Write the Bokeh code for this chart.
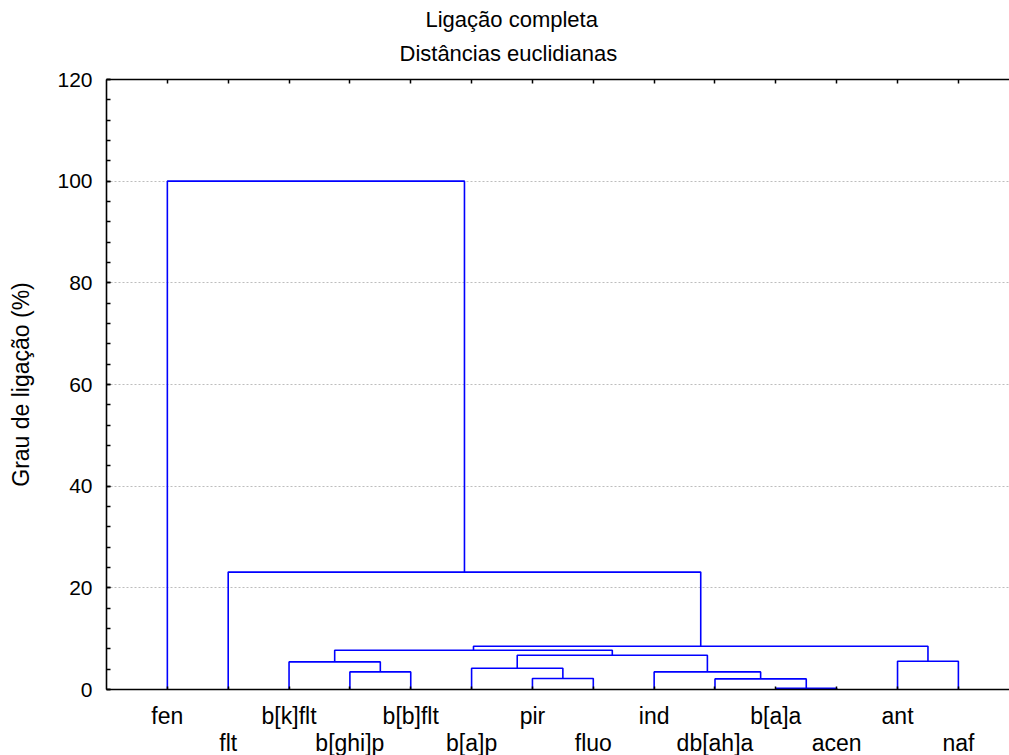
from bokeh.plotting import figure
from bokeh.models import LinearAxis, FixedTicker, SingleIntervalTicker, Title, Range1d
from bokeh.embed import file_html
from bokeh.resources import INLINE

# Leaves in dendrogram order
leaf_labels = ["fen", "flt", "b[k]flt", "b[ghi]p", "b[b]flt", "b[a]p", "pir",
               "fluo", "ind", "db[ah]a", "b[a]a", "acen", "ant", "naf"]

# Agglomeration steps: leaves are 0..13, each merge creates cluster 14, 15, ...
merge_left = [10, 6, 9, 3, 8, 5, 2, 12, 19, 20, 23, 1, 0]
merge_right = [11, 7, 14, 4, 16, 15, 17, 13, 18, 22, 21, 24, 25]
merge_height = [0.25, 2.16, 2.09, 3.46, 3.46, 4.19, 5.43, 5.56, 6.74, 7.73, 8.51, 23.1, 100.0]

y_ticks = [0, 20, 40, 60, 80, 100, 120]

FONT = "Liberation Sans"
BLUE = "#0000ff"

# node coordinates: leaves sit at x = 1..n, height 0
node_x = [i + 1 for i in range(len(leaf_labels))]
node_y = [0.0] * len(leaf_labels)
xs, ys = [], []
for a, b, h in zip(merge_left, merge_right, merge_height):
    xa, ya, xb, yb = node_x[a], node_y[a], node_x[b], node_y[b]
    xs.append([xa, xa, xb, xb])
    ys.append([ya, h, h, yb])
    node_x.append((xa + xb) / 2)
    node_y.append(h)

leaf_pos = list(range(1, len(leaf_labels) + 1))

p = figure(frame_width=903, frame_height=610, output_backend="svg", toolbar_location=None,
           x_range=Range1d(0, 14.84), y_range=Range1d(0, 120),
           min_border_left=106, min_border_right=0, min_border_top=79,
           min_border_bottom=0, outline_line_color=None)
p.background_fill_color = "white"
p.border_fill_color = "white"

# grid
p.xgrid.visible = False
p.ygrid.ticker = FixedTicker(ticks=y_ticks[1:-1])
p.ygrid.grid_line_color = "#bdbdbd"
p.ygrid.grid_line_dash = "2 2"
p.ygrid.grid_line_width = 1

# dendrogram links
p.multi_line(xs, ys, line_color=BLUE, line_width=1.6)

# y axis
ya = p.yaxis[0]
ya.ticker = SingleIntervalTicker(interval=20, num_minor_ticks=5)
ya.axis_label = "Grau de ligação (%)"
ya.axis_label_text_font = FONT
ya.axis_label_text_font_style = "normal"
ya.axis_label_text_font_size = "23px"
ya.axis_label_text_color = "black"
ya.axis_label_standoff = 20
ya.major_label_text_font = FONT
ya.major_label_text_font_size = "21px"
ya.major_label_text_color = "black"
ya.major_label_standoff = 14
ya.major_tick_in = 4
ya.major_tick_out = 0
ya.minor_tick_in = 4
ya.minor_tick_out = 0
ya.axis_line_width = 1.6
ya.major_tick_line_width = 1.5
ya.minor_tick_line_width = 1.5
ya.axis_line_color = "black"
ya.major_tick_line_color = "black"
ya.minor_tick_line_color = "black"

# bottom axis, first row of leaf names
xa = p.xaxis[0]
xa.ticker = FixedTicker(ticks=leaf_pos)
xa.major_label_overrides = {pos: (lab if i % 2 == 0 else "")
                            for i, (pos, lab) in enumerate(zip(leaf_pos, leaf_labels))}
xa.major_label_text_font = FONT
xa.major_label_text_font_size = "23px"
xa.major_label_text_color = "black"
xa.major_label_standoff = 13
xa.major_tick_in = 3
xa.major_tick_out = 0
xa.minor_tick_line_color = None
xa.axis_line_width = 1.6
xa.major_tick_line_width = 1.5
xa.axis_line_color = "black"
xa.major_tick_line_color = "black"

# bottom axis, second row of leaf names
even_pos = leaf_pos[1::2]
xa2 = LinearAxis(ticker=FixedTicker(ticks=even_pos),
                 major_label_overrides={pos: leaf_labels[pos - 1] for pos in even_pos},
                 major_label_text_font=FONT, major_label_text_font_size="23px",
                 major_label_text_color="black", major_label_standoff=-8,
                 axis_line_color=None, major_tick_line_color=None,
                 minor_tick_line_color=None)
p.add_layout(xa2, "below")

# top frame edge with inward ticks at each leaf
xt = LinearAxis(ticker=FixedTicker(ticks=leaf_pos),
                major_label_overrides={pos: "" for pos in leaf_pos},
                major_tick_in=4, major_tick_out=0, minor_tick_line_color=None,
                axis_line_width=1.6, major_tick_line_width=1.5,
                axis_line_color="black", major_tick_line_color="black")
p.add_layout(xt, "above")

# two-line title
p.add_layout(Title(text="Distâncias euclidianas", align="left", offset=293,
                   text_font=FONT, text_font_size="22px", text_font_style="normal",
                   text_color="black", standoff=27), "above")
p.add_layout(Title(text="Ligação completa", align="left", offset=319,
                   text_font=FONT, text_font_size="22px", text_font_style="normal",
                   text_color="black", standoff=-13), "above")

open("out.html", "w").write(file_html(p, INLINE))
